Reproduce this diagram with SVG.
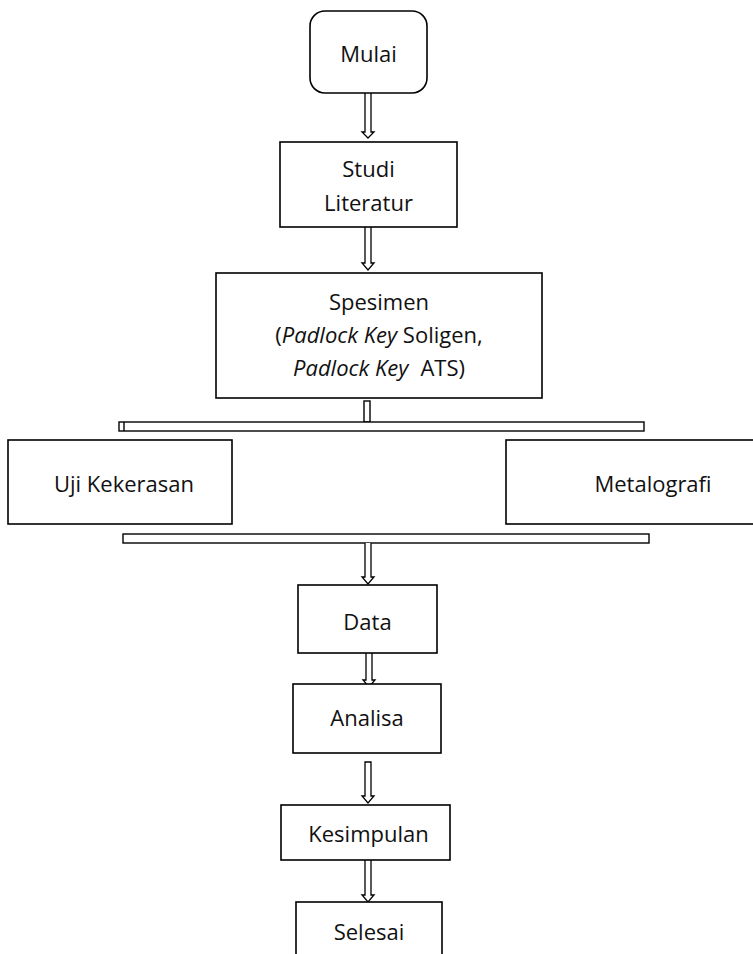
<svg xmlns="http://www.w3.org/2000/svg" width="753" height="954" viewBox="0 0 753 954">
<style>
.box{fill:#fff;stroke:#000;stroke-width:1.6}
.bar{fill:#fff;stroke:#000;stroke-width:1.4}
.arr{fill:#fff;stroke:#000;stroke-width:1.3;stroke-linejoin:miter}
text{font-family:"Open Sans","Noto Sans","Liberation Sans",sans-serif;font-size:22px;fill:#111;text-anchor:middle}
.it{font-style:italic}
</style>
<rect width="753" height="954" fill="#fff"/>
<g id="connectors">
<path class="arr" d="M365,93 L365,132 L362,132 L368,138 L374,132 L371,132 L371,93"/>
<path class="arr" d="M365,227 L365,263 L362,263 L368,270 L374,263 L371,263 L371,227"/>
<rect class="bar" x="364" y="401" width="6" height="21"/>
<rect class="bar" x="119" y="422" width="525" height="9"/>
<line x1="124" y1="422" x2="124" y2="431" stroke="#000" stroke-width="1.4"/>
<rect class="bar" x="123" y="534" width="526" height="9"/>
<path class="arr" d="M365,543 L365,577 L362,577 L368,584 L374,577 L371,577 L371,543"/>
<path class="arr" d="M366,653 L366,680 L363,680 L369,687 L375,680 L372,680 L372,653"/>
<path class="arr" d="M365,762 L365,796 L362,796 L368,803 L374,796 L371,796 L371,762Z"/>
<path class="arr" d="M365,860 L365,895 L362,895 L368,902 L374,895 L371,895 L371,860"/>
</g>
<g id="mulai">
<rect class="box" x="310" y="11" width="117" height="82" rx="15"/>
<text x="368.5" y="62">Mulai</text>
</g>
<g id="studi">
<rect class="box" x="280" y="142" width="177" height="85"/>
<text x="368.5" y="177">Studi</text>
<text x="368.5" y="211">Literatur</text>
</g>
<g id="spesimen">
<rect class="box" x="216" y="273" width="326" height="125"/>
<text x="379" y="310">Spesimen</text>
<text x="379" y="343">(<tspan class="it">Padlock Key</tspan> Soligen,</text>
<text x="379" y="376"><tspan class="it">Padlock Key</tspan><tspan dx="12">ATS)</tspan></text>
</g>
<g id="uji">
<rect class="box" x="8" y="440" width="224" height="84"/>
<text x="124" y="492">Uji Kekerasan</text>
</g>
<g id="metalografi">
<rect class="box" x="506" y="440" width="260" height="84"/>
<text x="653" y="492">Metalografi</text>
</g>
<g id="data">
<rect class="box" x="298" y="585" width="139" height="68"/>
<text x="367.5" y="630">Data</text>
</g>
<g id="analisa">
<rect class="box" x="293" y="684" width="148" height="69"/>
<text x="367" y="726">Analisa</text>
</g>
<g id="kesimpulan">
<rect class="box" x="281" y="805" width="169" height="55"/>
<text x="368.5" y="842">Kesimpulan</text>
</g>
<g id="selesai">
<rect class="box" x="296" y="902" width="146" height="70"/>
<text x="369" y="940">Selesai</text>
</g>
</svg>
